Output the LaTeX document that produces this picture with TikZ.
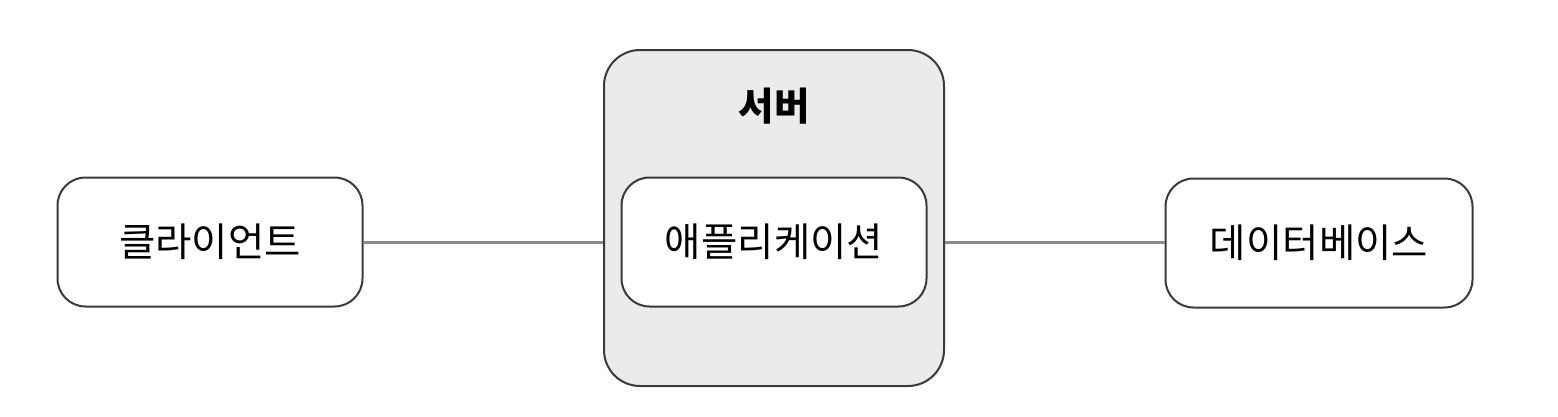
\documentclass[tikz,border=0pt]{standalone}
\usepackage{fontspec}
\newfontfamily\kr{Noto Sans CJK KR}
\usetikzlibrary{positioning}
\definecolor{edge}{HTML}{3A3A3A}
\definecolor{srvfill}{HTML}{EBEBEB}
\definecolor{link}{HTML}{8A8A8A}
\tikzset{
  box/.style={draw=edge, line width=2pt, rounded corners=28pt, fill=white, inner sep=0pt, font=\kr\fontsize{39.5}{44}\selectfont},
  container/.style={draw=edge, line width=2pt, rounded corners=36pt, fill=srvfill, inner sep=0pt},
  wire/.style={draw=link, line width=3pt}
}
\begin{document}
\begin{tikzpicture}[x=1pt,y=-1pt]
\useasboundingbox (0,0) rectangle (1558,416);
\node[container, minimum width=340pt, minimum height=336pt] (server) at (774,218) {};
\node[font=\kr\bfseries\fontsize{38.5}{44}\selectfont] (servertitle) at (774,106) {서버};
\node[box, minimum width=305pt, minimum height=129pt] (client) at (210,242) {클라이언트};
\node[box, minimum width=305pt, minimum height=129pt] (app) at (774,242) {애플리케이션};
\node[box, minimum width=307pt, minimum height=129pt] (db) at (1319,243) {데이터베이스};
\draw[wire] (client.east) -- (client.east -| server.west);
\draw[wire] (app.east -| server.east) -- (db.west |- app.east);
\end{tikzpicture}
\end{document}
